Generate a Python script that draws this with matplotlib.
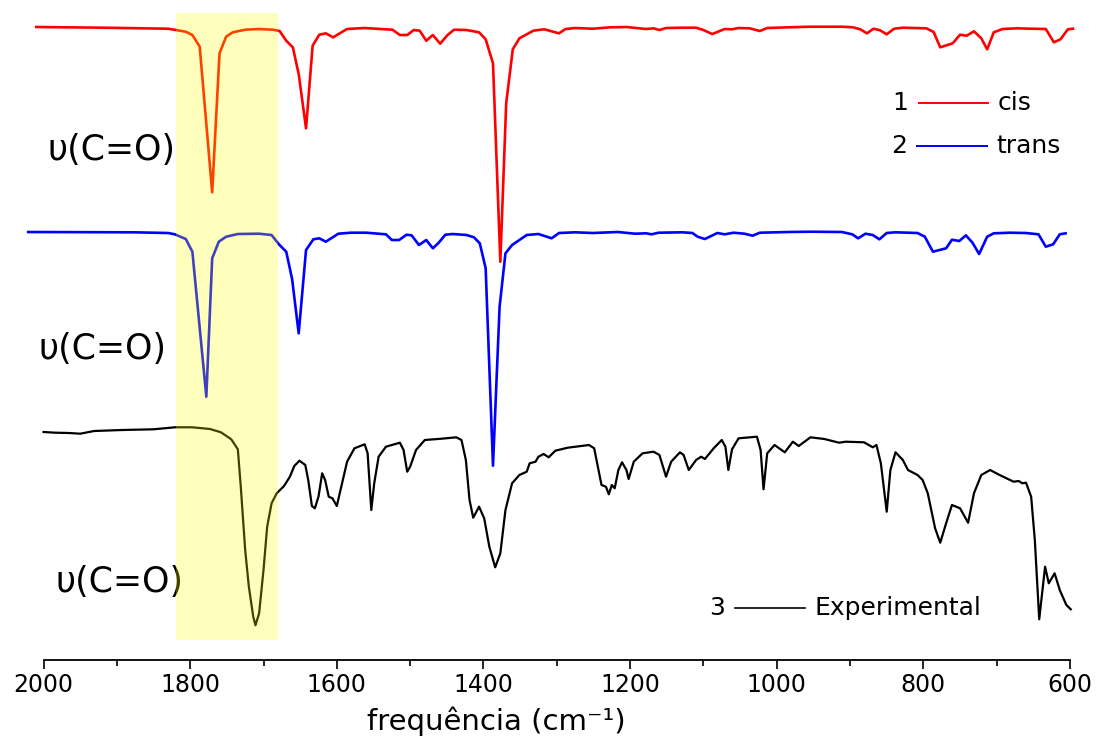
import numpy as np
import matplotlib
matplotlib.use('Agg')
import matplotlib.pyplot as plt
from matplotlib.ticker import MultipleLocator

plt.rcParams['font.family'] = ['DejaVu Sans']

# espectros calculados (cis, trans) e experimental, em unidades arbitrarias
red_wn = [2010, 1917, 1830, 1806, 1797, 1787, 1770, 1760, 1751, 1742,
          1725, 1706, 1687, 1678, 1669, 1660, 1652, 1642, 1633, 1624,
          1615, 1605, 1596, 1586, 1562, 1524, 1514, 1504, 1495, 1487,
          1478, 1469, 1459, 1449, 1440, 1423, 1406, 1397, 1387, 1377,
          1369, 1360, 1351, 1332, 1322, 1317, 1297, 1288, 1275, 1251,
          1227, 1205, 1178, 1168, 1160, 1151, 1129, 1110, 1100, 1088,
          1071, 1061, 1052, 1037, 1023, 1013, 984, 954, 911, 896,
          886, 877, 868, 859, 850, 840, 828, 796, 786, 777,
          760, 750, 741, 731, 721, 713, 704, 692, 672, 653,
          633, 622, 613, 603, 596]
red_t = [0, -0.7, -1.7, -4.7, -8, -19.7, -165.3, -26.3, -9.7, -5.3,
         -2.7, -2, -2.7, -4, -13.7, -20.3, -47, -101.3, -18.7, -7.7,
         -6.3, -10.3, -6.3, -2, -1, -2.7, -8, -8, -3, -3.7,
         -13.7, -8, -16.7, -8, -2.7, -3, -5.3, -12.3, -36.3, -234.7,
         -76.3, -22.3, -11.3, -3.7, -2.7, -2.3, -6.3, -2, -1, -1.7,
         -0.3, 0, -2, -1.3, -3, -1, -0.7, -0.7, -3, -7,
         -2, -2.3, -1, -1.3, -4, -1, -0.3, 0.3, 0.3, -0.3,
         -2.3, -6.3, -1.7, -3.3, -7.3, -1.7, -0.7, -1.3, -5, -20.3,
         -16.3, -7.7, -8.7, -4.3, -11.3, -22.3, -5.3, -2, -1.3, -1.7,
         -2, -15.3, -12.3, -2.3, -1.7]

blue_wn = [2021, 1878, 1830, 1821, 1806, 1797, 1778, 1770, 1761, 1751,
           1735, 1706, 1689, 1679, 1669, 1661, 1652, 1642, 1632, 1624,
           1615, 1598, 1581, 1560, 1533, 1525, 1515, 1505, 1498, 1488,
           1478, 1469, 1461, 1452, 1442, 1423, 1413, 1405, 1397, 1387,
           1378, 1370, 1361, 1341, 1325, 1307, 1297, 1275, 1251, 1217,
           1193, 1178, 1171, 1161, 1129, 1115, 1108, 1098, 1081, 1071,
           1059, 1044, 1033, 1023, 984, 954, 911, 897, 889, 879,
           869, 860, 850, 838, 808, 798, 787, 769, 761, 751,
           742, 733, 724, 713, 704, 682, 660, 643, 633, 623,
           614, 606]
blue_t = [0, -0.3, -1, -2.3, -7, -19.7, -164.7, -26.3, -9.7, -4.7,
          -2, -1.7, -3, -12.3, -19.7, -47, -101.3, -18, -7.3, -6.3,
          -9.7, -1.7, -0.7, -0.7, -2.3, -8, -8, -2.7, -3.3, -13,
          -8, -16.3, -10.7, -2.7, -2, -3, -5.3, -11.3, -36.3, -233.7,
          -74.7, -21.3, -13, -3, -2, -6.3, -1, -0.3, -1, 0,
          -1.7, -1.3, -2.3, -0.7, -0.3, -1, -4.7, -7, -1, -2.3,
          -0.7, -1.7, -3.7, -0.7, 0, 0.3, 0, -2.3, -6.3, -1.7,
          -3, -7.3, -1, -0.3, -1, -4.7, -19.7, -16.3, -7.7, -9,
          -3.3, -10.7, -22, -4.7, -1.3, -0.7, -1, -2.3, -14.7, -12.3,
          -2.3, -1.3]

exp_wn = [2000, 1984, 1965, 1950, 1931, 1893, 1850, 1821, 1797, 1773,
          1758, 1744, 1735, 1731, 1725, 1720, 1714, 1711, 1706, 1700,
          1695, 1689, 1682, 1672, 1664, 1658, 1651, 1643, 1639, 1634,
          1630, 1625, 1620, 1616, 1611, 1606, 1600, 1595, 1586, 1576,
          1562, 1558, 1553, 1549, 1543, 1533, 1514, 1509, 1504, 1500,
          1492, 1480, 1457, 1437, 1430, 1424, 1419, 1414, 1406, 1399,
          1392, 1384, 1377, 1370, 1361, 1351, 1341, 1337, 1329, 1325,
          1318, 1311, 1302, 1285, 1256, 1249, 1244, 1239, 1233, 1229,
          1225, 1221, 1216, 1211, 1205, 1202, 1195, 1183, 1168, 1160,
          1151, 1144, 1132, 1127, 1120, 1110, 1103, 1098, 1086, 1075,
          1070, 1066, 1061, 1052, 1027, 1022, 1018, 1013, 1003, 989,
          978, 970, 954, 935, 915, 906, 881, 869, 864, 858,
          850, 845, 838, 828, 821, 808, 801, 794, 784, 777,
          769, 761, 750, 739, 731, 721, 709, 696, 677, 670,
          665, 660, 653, 648, 642, 638, 634, 629, 621, 614,
          605, 599]
exp_t = [0, -0.7, -1, -1.7, 1, 2, 2.7, 4.7, 4.7, 3,
         -0.3, -7.3, -17.3, -54.7, -118, -154.7, -184.7, -193.3, -181.3, -138,
         -94.7, -71.3, -61.3, -54, -44.7, -34, -28.7, -33, -48, -74,
         -76.3, -64.7, -41.3, -48, -64.7, -66.3, -74, -58, -29.7, -16.3,
         -12.3, -21.3, -78, -51.3, -24.7, -14.7, -10.7, -18, -39.7, -34.7,
         -18, -8, -6.7, -5.3, -8, -28, -68, -85.7, -74.7, -86.3,
         -114.7, -135.3, -121.3, -78, -51.3, -43, -39.7, -31.3, -29.7, -24.7,
         -22, -25.3, -18.7, -15.7, -13, -16.3, -34.7, -53, -54.7, -62.3,
         -53, -56.3, -38, -30.3, -38, -47, -29.7, -21.3, -19.7, -23,
         -44.7, -29.7, -20.3, -23, -38, -28, -24.7, -27, -16.3, -8,
         -14.7, -38, -17.3, -6.3, -4.7, -18, -57.3, -21.3, -13, -20.3,
         -9.7, -14, -5.3, -7, -10.7, -9.7, -10.3, -15.3, -13, -31.3,
         -79.7, -38, -20.3, -28, -38, -43, -48, -61.3, -96.3, -110.7,
         -91.3, -73, -76.3, -90.7, -61.3, -43, -38, -43, -49.7, -49,
         -51.3, -50.7, -64.7, -108, -187.3, -161.3, -134.7, -151.3, -141.3, -158,
         -173, -177.3]

# deslocamento vertical de cada curva
off_cis, off_trans, off_exp = 633, 428, 228

fig = plt.figure(figsize=(10.97, 7.38), dpi=100)
ax = fig.add_axes([0.0397, 0.1057, 0.9357, 0.8875])

ax.plot(red_wn, np.array(red_t) + off_cis, color='red', lw=1.9, clip_on=False)
ax.plot(blue_wn, np.array(blue_t) + off_trans, color='blue', lw=1.9, clip_on=False)
ax.plot(exp_wn, np.array(exp_t) + off_exp, color='black', lw=1.6, clip_on=False)

# faixa do estiramento C=O
ax.axvspan(1820, 1680, ymin=0.0305, ymax=0.9878, color='yellow', alpha=0.26, lw=0, zorder=5)

lab = 'υ(C=O)'
ax.text(1908, 510, lab, fontsize=25, ha='center', va='center')
ax.text(1920, 311, lab, fontsize=25, ha='center', va='center')
ax.text(1897, 78, lab, fontsize=25, ha='center', va='center')

# legendas desenhadas a mao
ax.text(832, 557.5, '1', fontsize=18, ha='center', va='center')
ax.plot([806, 712], [557.5, 557.5], color='red', lw=1.4)
ax.text(699, 557.5, 'cis', fontsize=18, ha='left', va='center')

ax.text(833, 514.3, '2', fontsize=18, ha='center', va='center')
ax.plot([809, 713], [514.3, 514.3], color='blue', lw=1.4)
ax.text(700, 514.3, 'trans', fontsize=18, ha='left', va='center')

ax.text(1081, 52, '3', fontsize=18, ha='center', va='center')
ax.plot([1057, 961], [52, 52], color='black', lw=1.2)
ax.text(948, 52, 'Experimental', fontsize=18, ha='left', va='center')

ax.set_xlim(2000, 600)
ax.set_ylim(0, 655)
for s in ['left', 'right', 'top']:
    ax.spines[s].set_visible(False)
ax.spines['bottom'].set_linewidth(1.3)
ax.set_yticks([])
ax.xaxis.set_major_locator(MultipleLocator(200))
ax.xaxis.set_minor_locator(MultipleLocator(100))
ax.tick_params(axis='x', which='major', direction='out', length=6.5, width=1.2, labelsize=17, pad=3)
ax.tick_params(axis='x', which='minor', direction='out', length=4, width=1.2)

ax.set_xlabel('frequência (cm⁻¹)', fontsize=21, va='center')
ax.xaxis.set_label_coords(0.441, -0.094)

fig.savefig('out.png', dpi=100)
